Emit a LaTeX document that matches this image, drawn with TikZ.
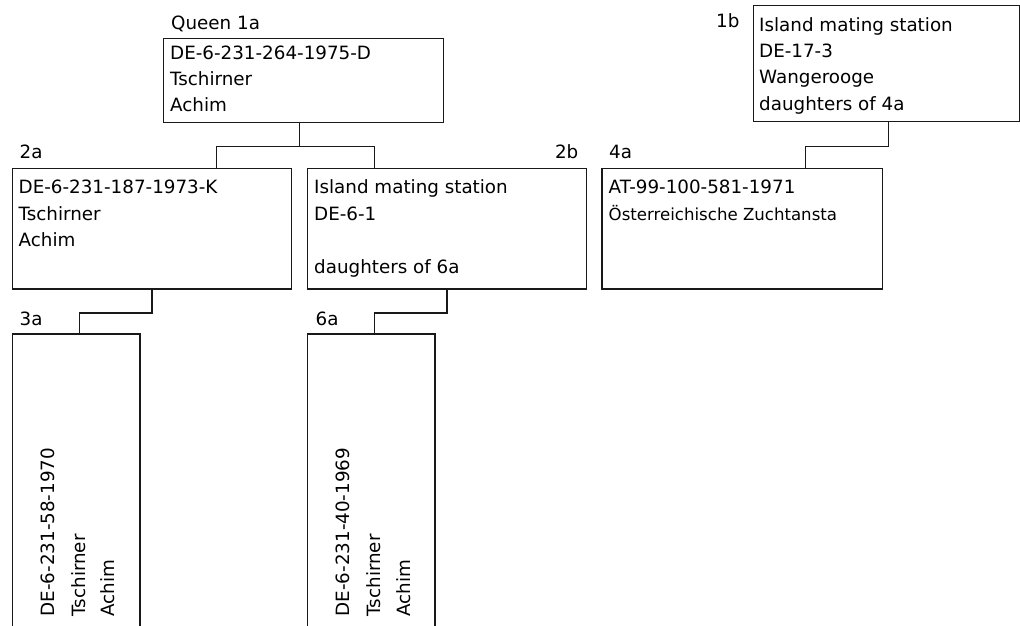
\documentclass[tikz,border=0pt]{standalone}
\usepackage{fontspec}
\setmainfont{DejaVu Sans}
\usetikzlibrary{calc}
\tikzset{
  box/.style={draw=black!90, line width=1.3pt, inner sep=0pt, anchor=north west},
  txt/.style={inner sep=0pt, anchor=base west, font=\fontsize{18.3}{22}\selectfont},
  txtsm/.style={inner sep=0pt, anchor=base west, font=\fontsize{16.6}{20}\selectfont},
  vtxt/.style={txt, rotate=90},
  conn/.style={draw=black!90, line width=1.3pt}
}
\begin{document}
\begin{tikzpicture}[x=1pt,y=-1pt]
\clip (0,0) rectangle (1020,625);
% boxes
\node[box, minimum width=280pt, minimum height=84pt] (b1a) at (162.7,37.7) {};
\node[box, minimum width=266.5pt, minimum height=115.7pt] (b1b) at (752.7,5) {};
\node[box, minimum width=279.3pt, minimum height=120.6pt] (b2a) at (11.7,167.7) {};
\node[box, minimum width=279.5pt, minimum height=120.6pt] (b2b) at (306.5,167.7) {};
\node[box, minimum width=280.4pt, minimum height=120.6pt] (b4a) at (601.3,167.7) {};
\node[box, minimum width=127.6pt, minimum height=330pt] (b3a) at (11.7,333.3) {};
\node[box, minimum width=127.3pt, minimum height=330pt] (b6a) at (307,333.3) {};
% labels
\node[txt] (l1a) at (171,29.3) {Queen 1a};
\node[txt] (l1b) at (716,27.7) {1b};
\node[txt] (l2a) at (19.5,158.3) {2a};
\node[txt, anchor=base east] (l2b) at (578.5,158.3) {2b};
\node[txt] (l3a) at (19.5,325) {3a};
\node[txt] (l6a) at (315.5,325) {6a};
\node[txt] (l4a) at (609,158.3) {4a};
% 1a text
\node[txt] (t1a1) at (170,59.3) {DE-6-231-264-1975-D};
\node[txt] (t1a2) at (170,85) {Tschirner};
\node[txt] (t1a3) at (170,111) {Achim};
% 1b text
\node[txt] (t1b1) at (759,31.7) {Island mating station};
\node[txt] (t1b2) at (759,57.3) {DE-17-3};
\node[txt] (t1b3) at (759,83.3) {Wangerooge};
\node[txt] (t1b4) at (759,110) {daughters of 4a};
% 2a text
\node[txt] (t2a1) at (18.5,193.5) {DE-6-231-187-1973-K};
\node[txt] (t2a2) at (18.5,220) {Tschirner};
\node[txt] (t2a3) at (18.5,246.3) {Achim};
% 2b text
\node[txt] (t2b1) at (314,193.5) {Island mating station};
\node[txt] (t2b2) at (314,220) {DE-6-1};
\node[txt] (t2b3) at (314,273.3) {daughters of 6a};
% 4a text
\node[txt] (t4a1) at (608.5,193.5) {AT-99-100-581-1971};
\node[txtsm] (t4a2) at (608.5,220) {Österreichische Zuchtansta};
% 3a text (rotated)
\node[vtxt] (t3a1) at (54.1,616.5) {DE-6-231-58-1970};
\node[vtxt] (t3a2) at (85.1,616.5) {Tschirner};
\node[vtxt] (t3a3) at (114.4,616.5) {Achim};
% 6a text (rotated)
\node[vtxt] (t6a1) at (349.4,616.5) {DE-6-231-40-1969};
\node[vtxt] (t6a2) at (380,616.5) {Tschirner};
\node[vtxt] (t6a3) at (410.4,616.5) {Achim};
% connector points
\coordinate (j1) at ($(b1a.south west)+(136.5,23.3)$);
\coordinate (e2a) at ($(b2a.north west)+(204.8,0)$);
\coordinate (e2b) at ($(b2b.north west)+(67.8,0)$);
\coordinate (j1b) at ($(b1b.south west)+(136,24.3)$);
\coordinate (e4a) at ($(b4a.north west)+(204.5,0)$);
\coordinate (e3a) at ($(b3a.north west)+(67.6,0)$);
\coordinate (e6a) at ($(b6a.north west)+(67.3,0)$);
% connectors
\draw[conn] (j1 |- b1a.south) -- (j1) -| (e2a);
\draw[conn] (j1) -| (e2b);
\draw[conn] (j1b |- b1b.south) -- (j1b) -| (e4a);
\draw[conn] (b2a.south) -- ++(0,23.4) -| (e3a);
\draw[conn] (b2b.south) -- ++(0,23.4) -| (e6a);
\end{tikzpicture}
\end{document}
